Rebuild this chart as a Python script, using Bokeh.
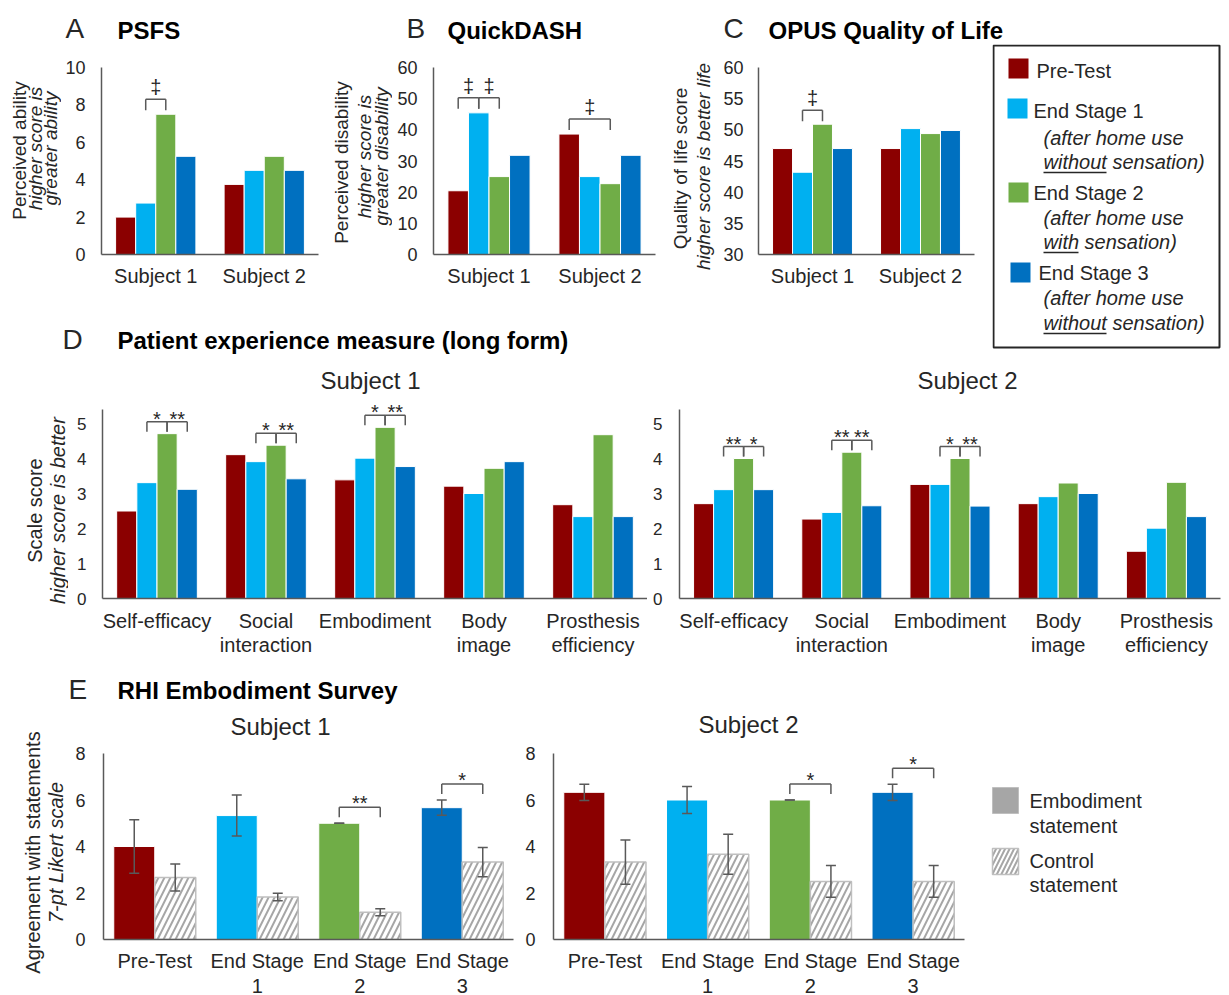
import math
from bokeh.plotting import figure
from bokeh.models import FactorRange, Range1d, Label, ColumnDataSource, FixedTicker
from bokeh.layouts import row, column
from bokeh.transform import dodge
from bokeh.core.properties import value
from bokeh.embed import file_html
from bokeh.resources import INLINE

FONT = "Liberation Sans"
TXT = "#262626"
AXC = "#595959"

# ---------------- data ----------------
stages = ["Pre-Test", "End Stage 1", "End Stage 2", "End Stage 3"]
stage_colors = ["#8B0000", "#00B0F0", "#70AD47", "#0070C0"]
subjects = ["Subject 1", "Subject 2"]

# A: PSFS (values per stage: [Subject 1, Subject 2])
psfs_pre = [2.0, 3.75]
psfs_es1 = [2.75, 4.5]
psfs_es2 = [7.5, 5.25]
psfs_es3 = [5.25, 4.5]
psfs_ticks = [0, 2, 4, 6, 8, 10]

# B: QuickDASH
qdash_pre = [20.45, 38.64]
qdash_es1 = [45.45, 25.0]
qdash_es2 = [25.0, 22.73]
qdash_es3 = [31.82, 31.82]
qdash_ticks = [0, 10, 20, 30, 40, 50, 60]

# C: OPUS Quality of Life
opus_pre = [47.0, 47.0]
opus_es1 = [43.2, 50.2]
opus_es2 = [50.9, 49.4]
opus_es3 = [47.0, 49.9]
opus_ticks = [30, 35, 40, 45, 50, 55, 60]

# D: Patient experience measure
pem_categories = ["Self-efficacy", "Social\ninteraction", "Embodiment", "Body\nimage", "Prosthesis\nefficiency"]
pem_s1_pre = [2.50, 4.11, 3.39, 3.21, 2.68]
pem_s1_es1 = [3.31, 3.91, 4.01, 3.00, 2.34]
pem_s1_es2 = [4.71, 4.38, 4.89, 3.72, 4.68]
pem_s1_es3 = [3.12, 3.42, 3.77, 3.91, 2.34]
pem_s2_pre = [2.71, 2.27, 3.26, 2.71, 1.35]
pem_s2_es1 = [3.11, 2.46, 3.26, 2.91, 2.01]
pem_s2_es2 = [4.00, 4.18, 4.00, 3.30, 3.32]
pem_s2_es3 = [3.11, 2.65, 2.64, 3.00, 2.34]
pem_ticks = [0, 1, 2, 3, 4, 5]

# E: RHI Embodiment Survey
rhi_categories = ["Pre-Test", "End Stage\n1", "End Stage\n2", "End Stage\n3"]
rhi_s1_emb = [4.00, 5.33, 5.00, 5.67]
rhi_s1_emb_err = [1.15, 0.88, 0.00, 0.33]
rhi_s1_ctrl = [2.67, 1.83, 1.17, 3.33]
rhi_s1_ctrl_err = [0.58, 0.16, 0.15, 0.63]
rhi_s2_emb = [6.33, 6.00, 6.00, 6.33]
rhi_s2_emb_err = [0.35, 0.58, 0.00, 0.35]
rhi_s2_ctrl = [3.33, 3.67, 2.50, 2.50]
rhi_s2_ctrl_err = [0.95, 0.86, 0.68, 0.68]
rhi_ticks = [0, 2, 4, 6, 8]

# significance: (category index, from stage, to stage, label)
psfs_sig = [(0, 1, 2, "\u2021")]
qdash_sig = [(0, 0, 1, "\u2021"), (0, 1, 2, "\u2021"), (1, 0, 2, "\u2021")]
opus_sig = [(0, 1, 2, "\u2021")]
pem_s1_sig = [(0, 1, 2, "*"), (0, 2, 3, "**"), (1, 1, 2, "*"), (1, 2, 3, "**"), (2, 1, 2, "*"), (2, 2, 3, "**")]
pem_s2_sig = [(0, 1, 2, "**"), (0, 2, 3, "*"), (1, 1, 2, "**"), (1, 2, 3, "**"), (2, 1, 2, "*"), (2, 2, 3, "**")]
rhi_s1_sig = [(2, "**"), (3, "*")]
rhi_s2_sig = [(2, "*"), (3, "*")]

BAR_W = 0.185
OFFS = [(k - 1.5) * BAR_W for k in range(4)]
ROT = math.pi / 2


# ---------------- helpers ----------------
def chart(canvas, frame, factors, y0, y1, head=0):
    """frame given in page pixels; 'head' = extra px above the nominal top (axis line stops at y1)."""
    cx0, cy0, cx1, cy1 = canvas
    fx0, fy0, fx1, fy1 = frame
    ppu = (fy1 - fy0) / (y1 - y0)
    p = figure(x_range=FactorRange(factors=factors, range_padding=0, factor_padding=0),
               y_range=Range1d(y0, y1 + head / ppu),
               frame_width=fx1 - fx0, frame_height=fy1 - fy0 + head,
               min_border_left=fx0 - cx0, min_border_right=cx1 - fx1,
               min_border_top=fy0 - head - cy0, min_border_bottom=cy1 - fy1,
               output_backend="svg", toolbar_location=None)
    p.outline_line_color = None
    p.grid.visible = False
    p.yaxis.bounds = (y0, y1)
    return p, ppu


def style_axes(p, ticks, tick_size, cat_size, ystand, xstand, line_h=1.1):
    for ax in (p.xaxis[0], p.yaxis[0]):
        ax.axis_line_color = AXC
        ax.axis_line_width = 1.5
        ax.major_tick_line_color = None
        ax.minor_tick_line_color = None
        ax.major_tick_out = 0
        ax.major_tick_in = 0
        ax.major_label_text_font = FONT
        ax.major_label_text_color = TXT
    p.yaxis.ticker = FixedTicker(ticks=ticks)
    p.yaxis.major_label_text_font_size = f"{tick_size}px"
    p.yaxis.major_label_standoff = ystand
    p.xaxis.major_label_text_font_size = f"{cat_size}px"
    p.xaxis.major_label_standoff = xstand
    p.xaxis.major_label_text_line_height = line_h


def grouped_bars(p, cats, series, bottom):
    for k, vals in enumerate(series):
        src = ColumnDataSource(dict(cat=cats, top=vals))
        p.vbar(x=dodge("cat", OFFS[k], range=p.x_range), top="top", bottom=bottom, width=BAR_W,
               source=src, fill_color=stage_colors[k], line_color="white", line_width=1)


def draw_brackets(p, ppu, items, pad, bh, toff, size):
    seg = dict(x0=[], y0=[], x1=[], y1=[])
    for xa, xb, top, lab in items:
        lb = top + pad / ppu
        ln = lb + bh / ppu
        for a, b, c, d in ((xa, lb, xa, ln), (xa, ln, xb, ln), (xb, ln, xb, lb)):
            seg["x0"].append(a); seg["y0"].append(b); seg["x1"].append(c); seg["y1"].append(d)
        p.add_layout(Label(x=(xa + xb) / 2, y=ln + toff / ppu, text=lab, text_font=FONT,
                           text_font_size=f"{size}px", text_align="center", text_baseline="middle",
                           text_color=TXT))
    p.segment(x0="x0", y0="y0", x1="x1", y1="y1", source=ColumnDataSource(seg),
              line_color=AXC, line_width=1.5)


def group_items(series, sig):
    items = []
    for c, a, b, lab in sig:
        top = max(series[k][c] for k in range(a, b + 1))
        items.append((c + 0.5 + OFFS[a], c + 0.5 + OFFS[b], top, lab))
    return items


def canvas_fig(x0, y0, x1, y1):
    """A blank figure whose data coordinates are page pixels."""
    p = figure(x_range=Range1d(x0, x1), y_range=Range1d(y1, y0), width=x1 - x0, height=y1 - y0,
               min_border=0, x_axis_location=None, y_axis_location=None,
               output_backend="svg", toolbar_location=None)
    p.outline_line_color = None
    p.grid.visible = False
    return p


def ctext(p, xs, ys, texts, size, style="normal", align="left", color=TXT, angle=0.0):
    p.text(x=xs, y=ys, text=texts, text_font=value(FONT), text_font_size=f"{size}px",
           text_font_style=style, text_align=align, text_baseline="middle", text_color=color,
           angle=angle)


def ylab(x0, y0, x1, y1, lines):
    p = canvas_fig(x0, y0, x1, y1)
    for x, y, t, style, size in lines:
        ctext(p, [x], [y], [t], size, style, align="center", angle=ROT)
    return column(p)


# ---------------- title strip ----------------
strip = canvas_fig(0, 0, 1229, 44)
ctext(strip, [65, 406, 723], [28, 28, 28], ["A", "B", "C"], 28)
ctext(strip, [117, 447, 768], [30, 30, 30], ["PSFS", "QuickDASH", "OPUS Quality of Life"], 24, "bold",
      color="black")

# ---------------- A ----------------
pA, ppuA = chart((61, 44, 330, 300), (101, 67, 318, 254), subjects, 0, 10)
grouped_bars(pA, subjects, [psfs_pre, psfs_es1, psfs_es2, psfs_es3], 0)
style_axes(pA, psfs_ticks, 18, 20, 16, 10)
draw_brackets(pA, ppuA, group_items([psfs_pre, psfs_es1, psfs_es2, psfs_es3], psfs_sig), 4, 11, 12, 20)
labA = ylab(0, 44, 61, 300, [(19, 150, "Perceived ability", "normal", 19),
                             (35, 148, "higher score is", "italic", 19),
                             (50, 148, "greater ability", "italic", 19)])

# ---------------- B ----------------
pB, ppuB = chart((392, 44, 670, 300), (433, 67, 655, 254), subjects, 0, 60)
grouped_bars(pB, subjects, [qdash_pre, qdash_es1, qdash_es2, qdash_es3], 0)
style_axes(pB, qdash_ticks, 18, 20, 16, 10)
draw_brackets(pB, ppuB, group_items([qdash_pre, qdash_es1, qdash_es2, qdash_es3], qdash_sig), 4, 11, 12, 20)
labB = ylab(330, 44, 392, 300, [(341, 162, "Perceived disability", "normal", 19),
                                (364, 156, "higher score is", "italic", 19),
                                (381, 156, "greater disability", "italic", 19)])

# ---------------- C ----------------
pC, ppuC = chart((716, 44, 992, 300), (758, 67, 974, 254), subjects, 30, 60)
grouped_bars(pC, subjects, [opus_pre, opus_es1, opus_es2, opus_es3], 30)
style_axes(pC, opus_ticks, 18, 20, 15, 10)
draw_brackets(pC, ppuC, group_items([opus_pre, opus_es1, opus_es2, opus_es3], opus_sig), 3, 11, 12, 20)
labC = ylab(670, 44, 716, 300, [(680, 168, "Quality of life score", "normal", 19),
                                (703, 166, "higher score is better life", "italic", 19)])

# ---------------- legend (stages) ----------------
leg = canvas_fig(992, 44, 1229, 360)
leg.quad(left=[993], right=[1219], top=[45], bottom=[347], fill_color=None, line_color=TXT, line_width=2)
leg.rect(x=[1018, 1017, 1018, 1020], y=[68, 108, 192, 272], width=20, height=20,
         fill_color=stage_colors, line_color=None)
ctext(leg, [1036, 1033, 1033, 1038], [70, 110, 192, 272], stages, 20)
ctext(leg, [1043] * 6, [137, 161, 217, 241, 297, 322],
      ["(after home use", "without sensation)", "(after home use", "with sensation)",
       "(after home use", "without sensation)"], 20, "italic")
leg.segment(x0=[1043, 1043, 1043], y0=[172, 252, 333], x1=[1106, 1078, 1106], y1=[172, 252, 333],
            line_color=TXT, line_width=1.5)

# ---------------- D title strip ----------------
dtitle = canvas_fig(0, 300, 992, 360)
ctext(dtitle, [62], [339], ["D"], 28)
ctext(dtitle, [117], [340], ["Patient experience measure (long form)"], 24, "bold", color="black")

top_block = row(column(row(labA, pA, labB, pB, labC, pC), dtitle), leg)

dsub = canvas_fig(0, 360, 1229, 395)
ctext(dsub, [370, 967], [380, 380], ["Subject 1", "Subject 2"], 24, align="center")

# ---------------- D ----------------
s1 = [pem_s1_pre, pem_s1_es1, pem_s1_es2, pem_s1_es3]
pD1, ppuD1 = chart((68, 395, 647, 660), (102, 409, 647, 598), pem_categories, 0, 5.4, head=10)
grouped_bars(pD1, pem_categories, s1, 0)
style_axes(pD1, pem_ticks, 17, 20, 16, 11)
draw_brackets(pD1, ppuD1, group_items(s1, pem_s1_sig), 2, 10, 3, 20)
labD = ylab(0, 395, 68, 660, [(34, 510, "Scale score", "normal", 20),
                              (57, 510, "higher score is better", "italic", 20)])

s2 = [pem_s2_pre, pem_s2_es1, pem_s2_es2, pem_s2_es3]
pD2, ppuD2 = chart((647, 395, 1229, 660), (679, 409, 1220, 598), pem_categories, 0, 5.4, head=10)
grouped_bars(pD2, pem_categories, s2, 0)
style_axes(pD2, pem_ticks, 17, 20, 17, 11)
draw_brackets(pD2, ppuD2, group_items(s2, pem_s2_sig), 2, 10, 3, 20)

# ---------------- E title strip ----------------
etitle = canvas_fig(67, 660, 1229, 740)
ctext(etitle, [68], [689], ["E"], 28)
ctext(etitle, [117], [690], ["RHI Embodiment Survey"], 24, "bold", color="black")
ctext(etitle, [280, 748], [726, 724], ["Subject 1", "Subject 2"], 24, align="center")


# ---------------- E ----------------
def rhi_panel(canvas, frame, emb, emb_err, ctrl, ctrl_err, sig, ystand):
    p, ppu = chart(canvas, frame, rhi_categories, 0, 8, head=6)
    src = ColumnDataSource(dict(cat=rhi_categories, emb=emb, ctrl=ctrl, color=stage_colors,
                                elo=[v - e for v, e in zip(emb, emb_err)],
                                ehi=[v + e for v, e in zip(emb, emb_err)],
                                clo=[v - e for v, e in zip(ctrl, ctrl_err)],
                                chi=[v + e for v, e in zip(ctrl, ctrl_err)]))
    xe = dodge("cat", -0.2, range=p.x_range)
    xc = dodge("cat", 0.2, range=p.x_range)
    p.vbar(x=xe, top="emb", bottom=0, width=0.4, source=src, fill_color="color",
           line_color="white", line_width=1)
    p.vbar(x=xc, top="ctrl", bottom=0, width=0.4, source=src, fill_color="white",
           line_color="#bfbfbf", line_width=1.5, hatch_pattern="/", hatch_color="#a6a6a6",
           hatch_scale=12, hatch_weight=2)
    for x, lo, hi in ((xe, "elo", "ehi"), (xc, "clo", "chi")):
        p.segment(x0=x, y0=lo, x1=x, y1=hi, source=src, line_color=AXC, line_width=1.5)
        p.scatter(x=x, y=lo, marker="dash", size=10, source=src, line_color=AXC, line_width=1.5)
        p.scatter(x=x, y=hi, marker="dash", size=10, source=src, line_color=AXC, line_width=1.5)
    style_axes(p, rhi_ticks, 18, 20, ystand, 10, 1.15)
    items = []
    for c, lab in sig:
        top = max(emb[c] + emb_err[c], ctrl[c] + ctrl_err[c])
        items.append((c + 0.3, c + 0.7, top, lab))
    draw_brackets(p, ppu, items, 6, 10, 4, 20)
    return p


pE1 = rhi_panel((67, 740, 515, 995), (103, 753, 513, 939), rhi_s1_emb, rhi_s1_emb_err,
                rhi_s1_ctrl, rhi_s1_ctrl_err, rhi_s1_sig, 18)
pE2 = rhi_panel((515, 740, 975, 995), (553, 753, 964, 939), rhi_s2_emb, rhi_s2_emb_err,
                rhi_s2_ctrl, rhi_s2_ctrl_err, rhi_s2_sig, 18)
labE = ylab(0, 660, 67, 995, [(32, 852, "Agreement with statements", "normal", 20),
                              (55, 852, "7-pt Likert scale", "italic", 20)])

eleg = canvas_fig(975, 740, 1229, 995)
eleg.rect(x=[1005], y=[800], width=26, height=26, fill_color="#a6a6a6", line_color="#bfbfbf", line_width=1)
eleg.rect(x=[1005], y=[861], width=26, height=26, fill_color="white", line_color="#bfbfbf", line_width=1.5,
          hatch_pattern="/", hatch_color="#a6a6a6", hatch_scale=9, hatch_weight=2)
ctext(eleg, [1029, 1029, 1029, 1029], [800, 825, 860, 884],
      ["Embodiment", "statement", "Control", "statement"], 20)

row_e = row(labE, column(etitle, row(pE1, pE2, column(eleg))))
layout = column(strip, top_block, dsub, row(labD, pD1, pD2), row_e)
open("out.html", "w").write(file_html(layout, INLINE))
